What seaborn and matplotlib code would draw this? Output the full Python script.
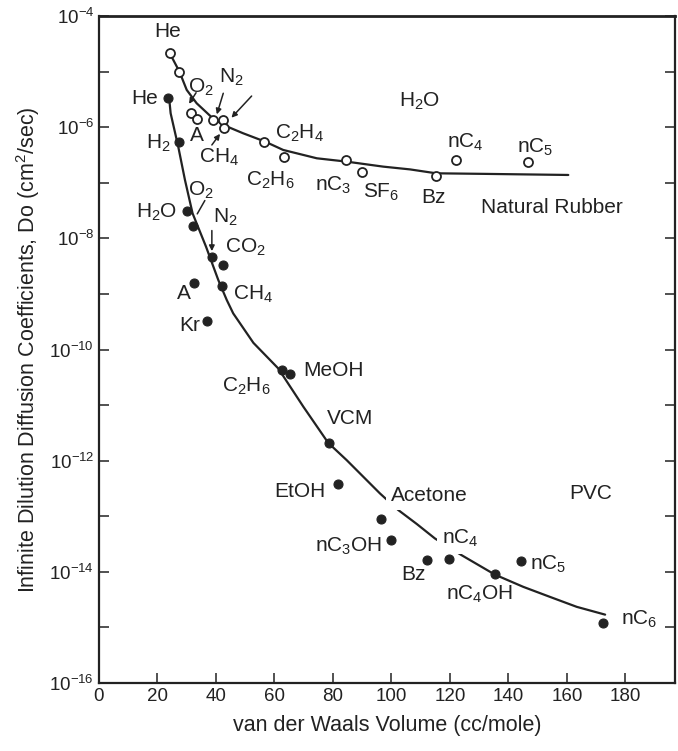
import numpy as np
import pandas as pd
import matplotlib
matplotlib.use("Agg")
import matplotlib.pyplot as plt
import seaborn as sns

# ---------------- data ----------------
# Natural rubber (open circles)
nr_names = ["He", "He2", "O2", "A", "N2", "x", "CH4", "C2H4", "C2H6", "nC3", "SF6", "Bz", "nC4", "nC5"]
nr_vol = [24.2, 27.4, 31.4, 33.6, 38.9, 42.5, 42.7, 56.4, 63.3, 84.5, 89.9, 115.2, 122.1, 146.8]
nr_logD = [-4.66, -5.00, -5.75, -5.85, -5.87, -5.87, -6.02, -6.26, -6.54, -6.59, -6.81, -6.88, -6.59, -6.62]

# Natural rubber fitted curve
nr_curve_vol = [24.5, 27.5, 30.0, 33.4, 38.5, 42.5, 49.3, 56.8, 63.0, 74.5, 84.7, 97.2, 106.4,
                115.3, 131.4, 160.5]
nr_curve_logD = [-4.70, -5.00, -5.33, -5.57, -5.82, -5.96, -6.11, -6.26, -6.41, -6.56, -6.62, -6.71,
                 -6.76, -6.83, -6.84, -6.86]

# PVC (filled circles)
pvc_names = ["He", "H2", "H2O", "O2", "N2", "CO2", "A", "CH4", "Kr", "C2H6", "MeOH", "VCM",
             "EtOH", "Acetone", "nC3OH", "Bz", "nC4", "nC4OH", "nC5", "nC6"]
pvc_vol = [23.7, 27.4, 30.2, 32.0, 38.6, 42.5, 32.6, 41.9, 37.0, 62.5, 65.3, 78.8,
           81.9, 96.4, 99.8, 112.3, 119.8, 135.4, 144.2, 172.3]
pvc_logD = [-5.48, -6.27, -7.50, -7.77, -8.34, -8.48, -8.80, -8.86, -9.48, -10.37, -10.44, -11.68,
            -12.42, -13.05, -13.43, -13.78, -13.77, -14.04, -13.80, -14.92]

# PVC fitted curve
pvc_curve_vol = [24.0, 24.5, 27.1, 29.4, 32.0, 36.6, 40.8, 43.7, 45.9, 52.8, 61.3, 69.9, 78.4,
                 84.7, 96.1, 102.4, 108.7, 114.9, 124.0, 135.4, 145.1, 154.2, 163.4, 173.1]
pvc_curve_logD = [-5.48, -5.75, -6.35, -6.95, -7.55, -8.15, -8.75, -9.11, -9.35, -9.88, -10.34,
                  -11.03, -11.68, -11.99, -12.59, -12.89, -13.14, -13.40, -13.70, -14.05, -14.27,
                  -14.45, -14.63, -14.77]

# text labels (text, volume, log10 D)
nr_label_text = ["He", "O$_2$", "N$_2$", "A", "CH$_4$", "C$_2$H$_4$", "C$_2$H$_6$", "nC$_3$",
                 "SF$_6$", "Bz", "nC$_4$", "nC$_5$", "H$_2$O", "Natural Rubber"]
nr_label_x = [23.6, 34.9, 45.1, 33.5, 41.1, 68.7, 58.5, 80.2, 96.6, 114.3, 125.2, 149.1, 109.8, 154.8]
nr_label_y = [-4.27, -5.29, -5.10, -6.15, -6.55, -6.12, -6.96, -7.05, -7.17, -7.26, -6.27, -6.36,
              -5.53, -7.44]

pvc_label_text = ["He", "H$_2$", "O$_2$", "H$_2$O", "N$_2$", "CO$_2$", "A", "CH$_4$", "Kr",
                  "MeOH", "C$_2$H$_6$", "VCM", "EtOH", "Acetone", "nC$_3$OH", "Bz", "nC$_4$",
                  "nC$_4$OH", "nC$_5$", "nC$_6$", "PVC"]
pvc_label_x = [15.7, 20.3, 34.9, 19.7, 43.1, 50.0, 28.9, 52.8, 31.1, 80.2, 50.5, 85.8, 68.8,
               113.0, 85.2, 107.5, 123.5, 130.3, 153.7, 184.8, 168.0]
pvc_label_y = [-5.48, -6.30, -7.14, -7.53, -7.62, -8.16, -9.00, -9.00, -9.57, -10.37, -10.67,
               -11.24, -12.56, -12.62, -13.55, -14.05, -13.40, -14.41, -13.87, -14.86, -12.59]

# arrows: tail -> head (volume, log10 D)
arrow_tail_x = [33.2, 42.5, 52.2, 38.6, 36.2, 38.6]
arrow_tail_y = [-5.38, -5.39, -5.44, -6.32, -7.32, -7.86]
arrow_head_x = [30.8, 40.3, 45.3, 41.4, 33.6, 38.6]
arrow_head_y = [-5.58, -5.77, -5.83, -6.12, -7.56, -8.23]
arrow_has_head = [True, True, True, True, False, True]

x_ticks = [0, 20, 40, 60, 80, 100, 120, 140, 160, 180]
y_major_exp = [-4, -6, -8, -10, -12, -14, -16]
y_minor_exp = [-5, -7, -9, -11, -13, -15]

# ---------------- style ----------------
sns.set_style("ticks")
plt.rcParams["font.family"] = ["Liberation Sans", "DejaVu Sans"]
plt.rcParams["mathtext.fontset"] = "custom"
plt.rcParams["mathtext.rm"] = "Liberation Sans"
plt.rcParams["mathtext.it"] = "Liberation Sans:italic"
plt.rcParams["mathtext.bf"] = "Liberation Sans:bold"
plt.rcParams["mathtext.sf"] = "Liberation Sans"

fig = plt.figure(figsize=(6.78, 7.51), dpi=100)
ax = fig.add_axes([99 / 678, 1 - 683 / 751, (675 - 99) / 678, (683 - 16) / 751])

ink = "#222222"

nr = pd.DataFrame({"vol": nr_vol, "D": np.power(10.0, nr_logD)})
pvc = pd.DataFrame({"vol": pvc_vol, "D": np.power(10.0, pvc_logD)})
nr_c = pd.DataFrame({"vol": nr_curve_vol, "D": np.power(10.0, nr_curve_logD)})
pvc_c = pd.DataFrame({"vol": pvc_curve_vol, "D": np.power(10.0, pvc_curve_logD)})

sns.lineplot(data=nr_c, x="vol", y="D", ax=ax, color=ink, lw=1.6, estimator=None, zorder=2)
sns.lineplot(data=pvc_c, x="vol", y="D", ax=ax, color=ink, lw=1.6, estimator=None, zorder=2)
sns.scatterplot(data=nr, x="vol", y="D", ax=ax, s=42, facecolor="white", edgecolor=ink,
                linewidth=1.3, zorder=4)
sns.scatterplot(data=pvc, x="vol", y="D", ax=ax, s=42, color=ink, edgecolor=ink,
                linewidth=0.8, zorder=4)

ax.set_yscale("log")
ax.set_xlim(0, 197)
ax.set_ylim(1e-16, 1e-4)

fs = 15
for t, x, y in zip(nr_label_text, nr_label_x, nr_label_y):
    ax.text(x, 10 ** y, t, ha="center", va="center", fontsize=fs, color=ink, zorder=5)
for t, x, y in zip(pvc_label_text, pvc_label_x, pvc_label_y):
    bbox = None
    if t in ("Acetone", "nC$_4$"):
        bbox = dict(boxstyle="square,pad=0.25", fc="white", ec="none")
    ax.text(x, 10 ** y, t, ha="center", va="center", fontsize=fs, color=ink, zorder=5, bbox=bbox)

for tx, ty, hx, hy, hh in zip(arrow_tail_x, arrow_tail_y, arrow_head_x, arrow_head_y, arrow_has_head):
    style = "-|>" if hh else "-"
    ax.annotate("", xy=(hx, 10 ** hy), xytext=(tx, 10 ** ty),
                arrowprops=dict(arrowstyle=style, color=ink, lw=1.1,
                                mutation_scale=8, shrinkA=0, shrinkB=0), zorder=5)

ax.set_xticks(x_ticks)
ax.set_xticklabels([str(v) for v in x_ticks])
ax.set_yticks([10.0 ** e for e in y_major_exp])
ax.set_yticklabels([r"$10^{%d}$" % e for e in y_major_exp])
ax.set_yticks([10.0 ** e for e in y_minor_exp], minor=True)
ax.yaxis.set_minor_formatter(matplotlib.ticker.NullFormatter())
ax.tick_params(axis="both", which="both", direction="in", colors=ink, labelsize=13.5,
               right=True, left=True, top=False, bottom=True)
ax.tick_params(axis="both", which="major", length=7, width=1.1)
ax.tick_params(axis="y", which="minor", length=7, width=1.1)
for s in ax.spines.values():
    s.set_linewidth(1.6)
    s.set_color(ink)
ax.spines["top"].set_linewidth(2.0)

ax.set_xlabel("van der Waals Volume (cc/mole)", fontsize=15.5, color=ink, labelpad=7)
ax.set_ylabel("Infinite Dilution Diffusion Coefficients, Do (cm$^2$/sec)", fontsize=15.5,
              color=ink, labelpad=5)

fig.savefig("out.png", dpi=100)
